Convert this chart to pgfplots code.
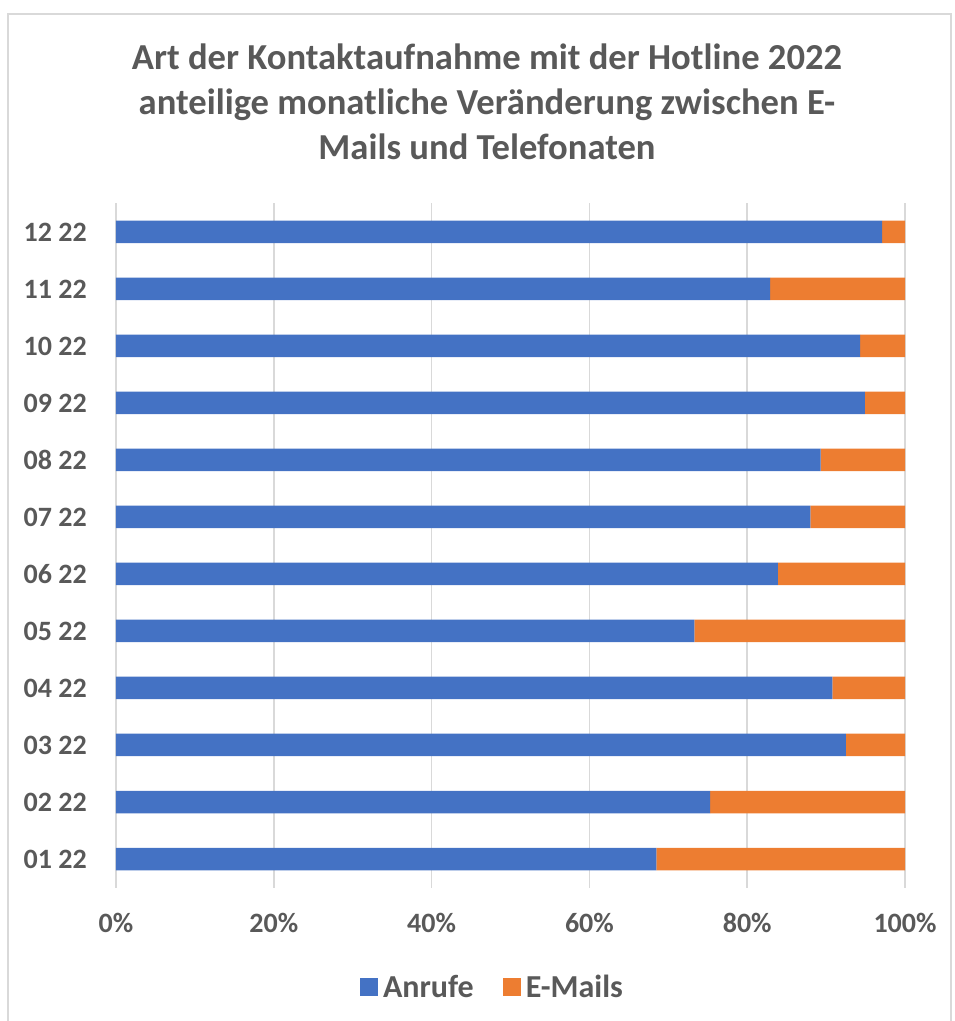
\documentclass[border=0pt]{standalone}
\usepackage{fontspec}
\setmainfont{Carlito}
\usepackage{pgfplots}
\pgfplotsset{compat=1.18}
\definecolor{anrufblue}{HTML}{4472C4}
\definecolor{mailorange}{HTML}{ED7D31}
\definecolor{txtgray}{HTML}{595959}
\definecolor{gridgray}{HTML}{D9D9D9}
\begin{document}
\begin{tikzpicture}
% page frame in pixel units of the reference (1px = 1pt)
\path[use as bounding box] (0pt,0pt) rectangle (955pt,1021pt);
\draw[gridgray, line width=1.5pt] (8pt,0pt) -- (8pt,1007pt) -- (951pt,1007pt) -- (951pt,0pt);

\begin{scope}[font=\fontsize{36.6}{43}\selectfont\bfseries, text=txtgray, inner sep=0pt]
  \node[anchor=base] at (487pt,951.7pt) {Art der Kontaktaufnahme mit der Hotline 2022};
  \node[anchor=base] at (487pt,906.5pt) {anteilige monatliche Veränderung zwischen E-};
  \node[anchor=base] at (487pt,861.5pt) {Mails und Telefonaten};
\end{scope}

\begin{axis}[
  at={(116pt,133.5pt)}, anchor=south west,
  scale only axis, width=789pt, height=684pt,
  xbar stacked, bar width=22.5pt,
  xmin=0, xmax=100,
  ymin=-0.5, ymax=11.5,
  xtick={0,20,40,60,80,100},
  xticklabels={0\%,20\%,40\%,60\%,80\%,100\%},
  ytick={0,...,11},
  yticklabels={01 22,02 22,03 22,04 22,05 22,06 22,07 22,08 22,09 22,10 22,11 22,12 22},
  major tick length=0pt,
  axis line style={draw=none},
  xmajorgrids, grid style={gridgray, line width=1.6pt},
  ticklabel style={font=\fontsize{28}{33}\selectfont\bfseries, text=txtgray, inner sep=0pt},
  xticklabel style={anchor=center, yshift=-35.5pt},
  yticklabel style={anchor=east, xshift=-29pt},
  legend style={at={(0.479,-0.145)}, anchor=center, draw=none, fill=none,
    legend columns=2, font=\fontsize{32}{38}\selectfont\bfseries, text=txtgray,
    nodes={inner sep=5pt},
    /tikz/every even column/.append style={column sep=24pt}},
  legend image code/.code={\fill[#1] (0pt,-9pt) rectangle (18pt,9pt);},
]
\addplot[fill=anrufblue, draw=none] coordinates {
  (68.5,0) (75.3,1) (92.5,2) (90.8,3) (73.3,4) (83.9,5)
  (88.0,6) (89.3,7) (94.9,8) (94.3,9) (82.9,10) (97.1,11)};
\addlegendentry{Anrufe}
\addplot[fill=mailorange, draw=none] coordinates {
  (31.5,0) (24.7,1) (7.5,2) (9.2,3) (26.7,4) (16.1,5)
  (12.0,6) (10.7,7) (5.1,8) (5.7,9) (17.1,10) (2.9,11)};
\addlegendentry{E-Mails}
\end{axis}
\end{tikzpicture}
\end{document}
